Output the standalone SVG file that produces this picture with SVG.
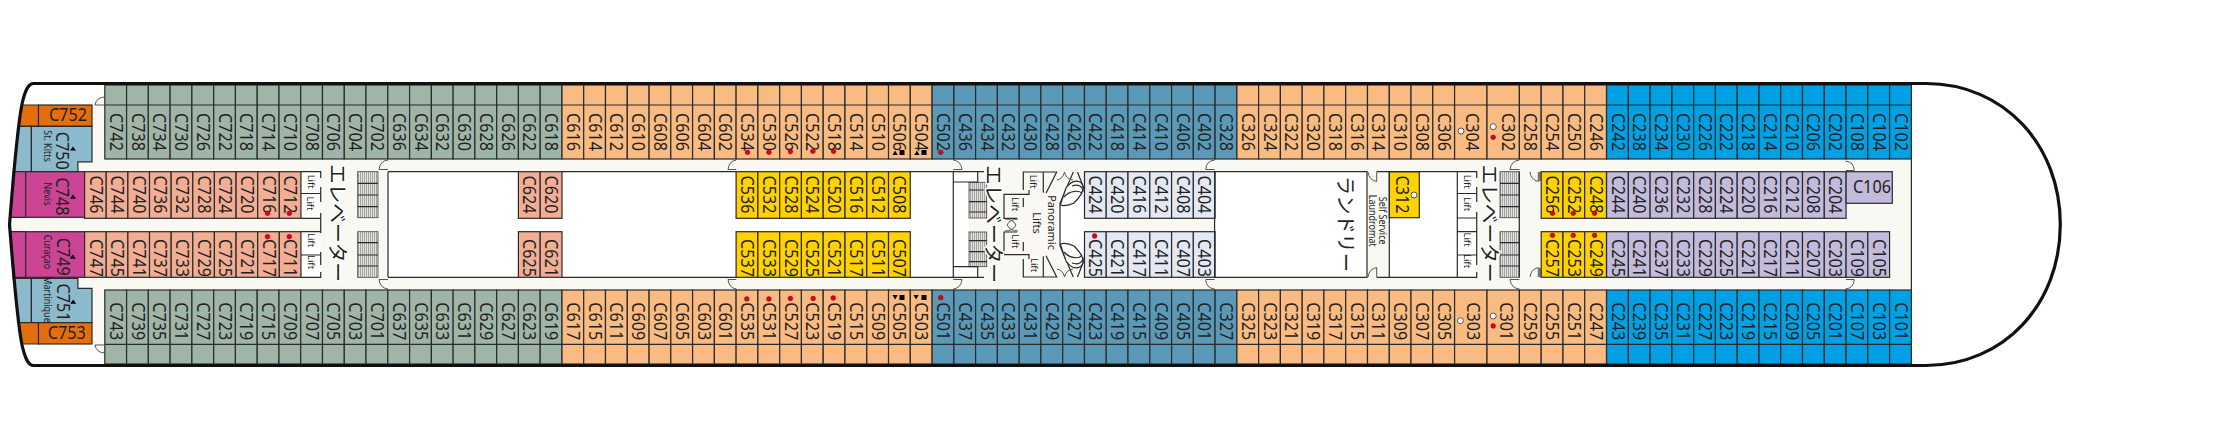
<svg xmlns="http://www.w3.org/2000/svg" width="2232" height="440" viewBox="0 0 2232 440">
<style>
text{font-family:"Noto Sans","Open Sans",sans-serif;fill:#231f20}
.c text{font-size:18px;text-anchor:middle}
.c text.s{font-size:10px}
.c rect,.c path.r{stroke:#2a2a2a;stroke-width:1.2}
.gr rect{fill:#9fb5a8}.or rect{fill:#f9bb82}.te rect{fill:#5a9ab8}.bl rect{fill:#00a0e4}
.sa rect{fill:#f2ad95}.ye rect{fill:#ffd200}.pa rect{fill:#e3e8f4}.li rect{fill:#c3bbdc}
.s{font-size:10px;text-anchor:middle}
.l{font-size:9.5px;text-anchor:middle}
.p{font-size:11.5px;text-anchor:middle}
.j{font-family:"Noto Sans CJK JP","Noto Sans",sans-serif;font-size:20px;text-anchor:middle;stroke:#fff;stroke-width:3px;paint-order:stroke}
.w{fill:none;stroke:#2a2a2a;stroke-width:1.2}
.d{fill:none;stroke:#555;stroke-width:1}
.rd{fill:#e2001a;stroke:#600;stroke-width:.4}
.wd{fill:#fff;stroke:#333;stroke-width:.8}
.st{fill:url(#hatch);stroke:#444;stroke-width:.8}
.k{fill:#000}
</style>
<defs>
<pattern id="hatch" width="2" height="4" patternUnits="userSpaceOnUse"><rect width="2" height="4" fill="#e4e4e0"/><rect width=".6" height="4" fill="#777"/></pattern>
</defs>
<rect width="2232" height="440" fill="#fff"/>
<g id="floor">
<rect x="10" y="218" width="80" height="14" fill="#faf8f3"/>
<rect x="77" y="159" width="1834.4" height="131" fill="#faf8f3"/>
<rect x="92" y="105" width="14" height="240" fill="#faf8f3"/>
<rect x="388" y="171.7" width="565.3" height="105.6" fill="#fff"/>
<rect x="953.3" y="182" width="15.7" height="85" fill="#fff"/>
<rect x="953.3" y="171.7" width="24.4" height="10.3" fill="#fff"/>
<rect x="953.3" y="267" width="24.4" height="10.3" fill="#fff"/>
<rect x="1214.6" y="171.7" width="152.4" height="105.6" fill="#fff"/>
<rect x="1389.3" y="171.7" width="68" height="105.6" fill="#fff"/>
<rect x="300.9" y="171.7" width="19.5" height="46.6" fill="#fff"/>
<rect x="300.9" y="231.7" width="19.5" height="45.6" fill="#fff"/>
<rect x="1457.3" y="171.7" width="19.5" height="105.6" fill="#fff"/>
<path d="M1060 204L1084.5 190V258L1060 246Z" fill="#fff"/>
</g>
<g id="stern-suites">
<g id="C752" class="c"><path class="r" fill="#e46f0a" d="M22.4 105H38.5V126.3H18.5Z"/><rect x="38.5" y="105" width="53.5" height="21.3" fill="#e46f0a"/><text transform="translate(67.9 121)scale(.9 1)">C752</text></g>
<g id="C750" class="c"><path class="r" fill="#8cb9cb" d="M18.5 126.3H31.4V171.5H13.4Z"/><path class="r" fill="#8cb9cb" d="M31.4 126.3H92V161.8H77.9V171.5H31.4Z"/><text transform="translate(55.7 150.7)rotate(90)scale(.9 1)">C750</text><text class="s" transform="translate(44.2 146)rotate(90)scale(.9 1)">St. Kitts</text><path class="k" d="M73 146.4l3 4.2h-6z"/></g>
<g id="C748" class="c"><path class="r" fill="#cc4494" d="M13.2 171.7H25.7V217.3H10.2Z"/><rect x="25.7" y="171.7" width="58.9" height="45.6" fill="#cc4494"/><text transform="translate(56.3 196.5)rotate(90)scale(.9 1)">C748</text><text class="s" transform="translate(44 194)rotate(90)scale(.9 1)">Nevis</text><path class="k" d="M73 194.6l3 4.2h-6z"/></g>
<g id="C749" class="c"><path class="r" fill="#cc4494" d="M10.2 231.7H25.7V277.3H13.2Z"/><rect x="25.7" y="231.7" width="58.9" height="45.6" fill="#cc4494"/><text transform="translate(56.5 256.7)rotate(90)scale(.9 1)">C749</text><text class="s" transform="translate(44 252)rotate(90)scale(.9 1)">Curaçao</text><path class="k" d="M72.8 254.6l3 4.2h-6z"/></g>
<g id="C751" class="c"><path class="r" fill="#8cb9cb" d="M13.4 278.3H31.4V322.7H18.5Z"/><path class="r" fill="#8cb9cb" d="M31.4 278.3H77.9V288.3H92V322.7H31.4Z"/><text transform="translate(56.5 302.5)rotate(90)scale(.9 1)">C751</text><text class="s" transform="translate(44 299.5)rotate(90)scale(.9 1)">Martinique</text><path class="k" d="M73.2 299.6l3 4.2h-6z"/></g>
<g id="C753" class="c"><path class="r" fill="#e46f0a" d="M18.5 322.7H38.5V344H22.4Z"/><rect x="38.5" y="322.7" width="53.5" height="21.3" fill="#e46f0a"/><text transform="translate(66.8 338.7)scale(.9 1)">C753</text></g>
</g>
<g id="top-row" class="c">
<g class="gr">
<g id="C742"><rect x="104.8" y="85" width="21.77" height="74"/><text transform="translate(109.7 132)rotate(90)scale(.9 1)">C742</text></g>
<g id="C738"><rect x="126.6" y="85" width="21.77" height="74"/><text transform="translate(131.5 132)rotate(90)scale(.9 1)">C738</text></g>
<g id="C734"><rect x="148.3" y="85" width="21.77" height="74"/><text transform="translate(153.2 132)rotate(90)scale(.9 1)">C734</text></g>
<g id="C730"><rect x="170.1" y="85" width="21.77" height="74"/><text transform="translate(175 132)rotate(90)scale(.9 1)">C730</text></g>
<g id="C726"><rect x="191.9" y="85" width="21.77" height="74"/><text transform="translate(196.8 132)rotate(90)scale(.9 1)">C726</text></g>
<g id="C722"><rect x="213.7" y="85" width="21.77" height="74"/><text transform="translate(218.6 132)rotate(90)scale(.9 1)">C722</text></g>
<g id="C718"><rect x="235.4" y="85" width="21.77" height="74"/><text transform="translate(240.3 132)rotate(90)scale(.9 1)">C718</text></g>
<g id="C714"><rect x="257.2" y="85" width="21.77" height="74"/><text transform="translate(262.1 132)rotate(90)scale(.9 1)">C714</text></g>
<g id="C710"><rect x="279" y="85" width="21.77" height="74"/><text transform="translate(283.9 132)rotate(90)scale(.9 1)">C710</text></g>
<g id="C708"><rect x="300.7" y="85" width="21.77" height="74"/><text transform="translate(305.6 132)rotate(90)scale(.9 1)">C708</text></g>
<g id="C706"><rect x="322.5" y="85" width="21.77" height="74"/><text transform="translate(327.4 132)rotate(90)scale(.9 1)">C706</text></g>
<g id="C704"><rect x="344.3" y="85" width="21.77" height="74"/><text transform="translate(349.2 132)rotate(90)scale(.9 1)">C704</text></g>
<g id="C702"><rect x="366" y="85" width="21.77" height="74"/><text transform="translate(370.9 132)rotate(90)scale(.9 1)">C702</text></g>
<g id="C636"><rect x="387.8" y="85" width="21.77" height="74"/><text transform="translate(392.7 132)rotate(90)scale(.9 1)">C636</text></g>
<g id="C634"><rect x="409.6" y="85" width="21.77" height="74"/><text transform="translate(414.5 132)rotate(90)scale(.9 1)">C634</text></g>
<g id="C632"><rect x="431.4" y="85" width="21.77" height="74"/><text transform="translate(436.3 132)rotate(90)scale(.9 1)">C632</text></g>
<g id="C630"><rect x="453.1" y="85" width="21.77" height="74"/><text transform="translate(458 132)rotate(90)scale(.9 1)">C630</text></g>
<g id="C628"><rect x="474.9" y="85" width="21.77" height="74"/><text transform="translate(479.8 132)rotate(90)scale(.9 1)">C628</text></g>
<g id="C626"><rect x="496.7" y="85" width="21.77" height="74"/><text transform="translate(501.6 132)rotate(90)scale(.9 1)">C626</text></g>
<g id="C622"><rect x="518.4" y="85" width="21.77" height="74"/><text transform="translate(523.3 132)rotate(90)scale(.9 1)">C622</text></g>
<g id="C618"><rect x="540.2" y="85" width="21.77" height="74"/><text transform="translate(545.1 132)rotate(90)scale(.9 1)">C618</text></g>
</g>
<g class="or">
<g id="C616"><rect x="562" y="85" width="21.77" height="74"/><text transform="translate(566.9 132)rotate(90)scale(.9 1)">C616</text></g>
<g id="C614"><rect x="583.7" y="85" width="21.77" height="74"/><text transform="translate(588.6 132)rotate(90)scale(.9 1)">C614</text></g>
<g id="C612"><rect x="605.5" y="85" width="21.77" height="74"/><text transform="translate(610.4 132)rotate(90)scale(.9 1)">C612</text></g>
<g id="C610"><rect x="627.3" y="85" width="21.77" height="74"/><text transform="translate(632.2 132)rotate(90)scale(.9 1)">C610</text></g>
<g id="C608"><rect x="649.1" y="85" width="21.77" height="74"/><text transform="translate(654 132)rotate(90)scale(.9 1)">C608</text></g>
<g id="C606"><rect x="670.8" y="85" width="21.77" height="74"/><text transform="translate(675.7 132)rotate(90)scale(.9 1)">C606</text></g>
<g id="C604"><rect x="692.6" y="85" width="21.77" height="74"/><text transform="translate(697.5 132)rotate(90)scale(.9 1)">C604</text></g>
<g id="C602"><rect x="714.4" y="85" width="21.77" height="74"/><text transform="translate(719.3 132)rotate(90)scale(.9 1)">C602</text></g>
<g id="C534"><rect x="736.1" y="85" width="21.77" height="74"/><text transform="translate(741 132)rotate(90)scale(.9 1)">C534</text></g>
<g id="C530"><rect x="757.9" y="85" width="21.77" height="74"/><text transform="translate(762.8 132)rotate(90)scale(.9 1)">C530</text></g>
<g id="C526"><rect x="779.7" y="85" width="21.77" height="74"/><text transform="translate(784.6 132)rotate(90)scale(.9 1)">C526</text></g>
<g id="C522"><rect x="801.4" y="85" width="21.77" height="74"/><text transform="translate(806.3 132)rotate(90)scale(.9 1)">C522</text></g>
<g id="C518"><rect x="823.2" y="85" width="21.77" height="74"/><text transform="translate(828.1 132)rotate(90)scale(.9 1)">C518</text></g>
<g id="C514"><rect x="845" y="85" width="21.77" height="74"/><text transform="translate(849.9 132)rotate(90)scale(.9 1)">C514</text></g>
<g id="C510"><rect x="866.8" y="85" width="21.77" height="74"/><text transform="translate(871.7 132)rotate(90)scale(.9 1)">C510</text></g>
<g id="C506"><rect x="888.5" y="85" width="21.77" height="74"/><text transform="translate(893.4 132)rotate(90)scale(.9 1)">C506</text></g>
<g id="C504"><rect x="910.3" y="85" width="21.77" height="74"/><text transform="translate(915.2 132)rotate(90)scale(.9 1)">C504</text></g>
</g>
<g class="te">
<g id="C502"><rect x="932.1" y="85" width="21.77" height="74"/><text transform="translate(937 132)rotate(90)scale(.9 1)">C502</text></g>
<g id="C436"><rect x="953.9" y="85" width="21.77" height="74"/><text transform="translate(958.8 132)rotate(90)scale(.9 1)">C436</text></g>
<g id="C434"><rect x="975.6" y="85" width="21.77" height="74"/><text transform="translate(980.5 132)rotate(90)scale(.9 1)">C434</text></g>
<g id="C432"><rect x="997.4" y="85" width="21.77" height="74"/><text transform="translate(1002.3 132)rotate(90)scale(.9 1)">C432</text></g>
<g id="C430"><rect x="1019.2" y="85" width="21.77" height="74"/><text transform="translate(1024.1 132)rotate(90)scale(.9 1)">C430</text></g>
<g id="C428"><rect x="1040.9" y="85" width="21.77" height="74"/><text transform="translate(1045.8 132)rotate(90)scale(.9 1)">C428</text></g>
<g id="C426"><rect x="1062.7" y="85" width="21.77" height="74"/><text transform="translate(1067.6 132)rotate(90)scale(.9 1)">C426</text></g>
<g id="C422"><rect x="1084.5" y="85" width="21.77" height="74"/><text transform="translate(1089.4 132)rotate(90)scale(.9 1)">C422</text></g>
<g id="C418"><rect x="1106.2" y="85" width="21.77" height="74"/><text transform="translate(1111.1 132)rotate(90)scale(.9 1)">C418</text></g>
<g id="C414"><rect x="1128" y="85" width="21.77" height="74"/><text transform="translate(1132.9 132)rotate(90)scale(.9 1)">C414</text></g>
<g id="C410"><rect x="1149.8" y="85" width="21.77" height="74"/><text transform="translate(1154.7 132)rotate(90)scale(.9 1)">C410</text></g>
<g id="C406"><rect x="1171.6" y="85" width="21.77" height="74"/><text transform="translate(1176.5 132)rotate(90)scale(.9 1)">C406</text></g>
<g id="C402"><rect x="1193.3" y="85" width="21.77" height="74"/><text transform="translate(1198.2 132)rotate(90)scale(.9 1)">C402</text></g>
<g id="C328"><rect x="1215.1" y="85" width="21.77" height="74"/><text transform="translate(1220 132)rotate(90)scale(.9 1)">C328</text></g>
</g>
<g class="or">
<g id="C326"><rect x="1236.9" y="85" width="21.77" height="74"/><text transform="translate(1241.8 132)rotate(90)scale(.9 1)">C326</text></g>
<g id="C324"><rect x="1258.6" y="85" width="21.77" height="74"/><text transform="translate(1263.5 132)rotate(90)scale(.9 1)">C324</text></g>
<g id="C322"><rect x="1280.4" y="85" width="21.77" height="74"/><text transform="translate(1285.3 132)rotate(90)scale(.9 1)">C322</text></g>
<g id="C320"><rect x="1302.2" y="85" width="21.77" height="74"/><text transform="translate(1307.1 132)rotate(90)scale(.9 1)">C320</text></g>
<g id="C318"><rect x="1323.9" y="85" width="21.77" height="74"/><text transform="translate(1328.8 132)rotate(90)scale(.9 1)">C318</text></g>
<g id="C316"><rect x="1345.7" y="85" width="21.77" height="74"/><text transform="translate(1350.6 132)rotate(90)scale(.9 1)">C316</text></g>
<g id="C314"><rect x="1367.5" y="85" width="21.77" height="74"/><text transform="translate(1372.4 132)rotate(90)scale(.9 1)">C314</text></g>
<g id="C310"><rect x="1389.3" y="85" width="21.77" height="74"/><text transform="translate(1394.2 132)rotate(90)scale(.9 1)">C310</text></g>
<g id="C308"><rect x="1411" y="85" width="21.77" height="74"/><text transform="translate(1415.9 132)rotate(90)scale(.9 1)">C308</text></g>
<g id="C306"><rect x="1432.8" y="85" width="21.77" height="74"/><text transform="translate(1437.7 132)rotate(90)scale(.9 1)">C306</text></g>
<g id="C304"><rect x="1454.6" y="85" width="32.4" height="74"/><text transform="translate(1465.8 132)rotate(90)scale(.9 1)">C304</text></g>
<g id="C302"><rect x="1487" y="85" width="32.4" height="74"/><text transform="translate(1501.5 132)rotate(90)scale(.9 1)">C302</text></g>
<g id="C258"><rect x="1519.4" y="85" width="21.77" height="74"/><text transform="translate(1524.3 132)rotate(90)scale(.9 1)">C258</text></g>
<g id="C254"><rect x="1541.2" y="85" width="21.77" height="74"/><text transform="translate(1546.1 132)rotate(90)scale(.9 1)">C254</text></g>
<g id="C250"><rect x="1563" y="85" width="21.77" height="74"/><text transform="translate(1567.9 132)rotate(90)scale(.9 1)">C250</text></g>
<g id="C246"><rect x="1584.7" y="85" width="21.77" height="74"/><text transform="translate(1589.6 132)rotate(90)scale(.9 1)">C246</text></g>
</g>
<g class="bl">
<g id="C242"><rect x="1606.6" y="85" width="21.77" height="74"/><text transform="translate(1611.5 132)rotate(90)scale(.9 1)">C242</text></g>
<g id="C238"><rect x="1628.4" y="85" width="21.77" height="74"/><text transform="translate(1633.3 132)rotate(90)scale(.9 1)">C238</text></g>
<g id="C234"><rect x="1650.1" y="85" width="21.77" height="74"/><text transform="translate(1655 132)rotate(90)scale(.9 1)">C234</text></g>
<g id="C230"><rect x="1671.9" y="85" width="21.77" height="74"/><text transform="translate(1676.8 132)rotate(90)scale(.9 1)">C230</text></g>
<g id="C226"><rect x="1693.7" y="85" width="21.77" height="74"/><text transform="translate(1698.6 132)rotate(90)scale(.9 1)">C226</text></g>
<g id="C222"><rect x="1715.4" y="85" width="21.77" height="74"/><text transform="translate(1720.3 132)rotate(90)scale(.9 1)">C222</text></g>
<g id="C218"><rect x="1737.2" y="85" width="21.77" height="74"/><text transform="translate(1742.1 132)rotate(90)scale(.9 1)">C218</text></g>
<g id="C214"><rect x="1759" y="85" width="21.77" height="74"/><text transform="translate(1763.9 132)rotate(90)scale(.9 1)">C214</text></g>
<g id="C210"><rect x="1780.7" y="85" width="21.77" height="74"/><text transform="translate(1785.6 132)rotate(90)scale(.9 1)">C210</text></g>
<g id="C206"><rect x="1802.5" y="85" width="21.77" height="74"/><text transform="translate(1807.4 132)rotate(90)scale(.9 1)">C206</text></g>
<g id="C202"><rect x="1824.3" y="85" width="21.77" height="74"/><text transform="translate(1829.2 132)rotate(90)scale(.9 1)">C202</text></g>
<g id="C108"><rect x="1846.1" y="85" width="21.77" height="74"/><text transform="translate(1851 132)rotate(90)scale(.9 1)">C108</text></g>
<g id="C104"><rect x="1867.8" y="85" width="21.77" height="74"/><text transform="translate(1872.7 132)rotate(90)scale(.9 1)">C104</text></g>
<g id="C102"><rect x="1889.6" y="85" width="21.77" height="74"/><text transform="translate(1894.5 132)rotate(90)scale(.9 1)">C102</text></g>
</g>
</g>
<g id="bottom-row" class="c">
<g class="gr">
<g id="C743"><rect x="104.8" y="290" width="21.77" height="74"/><text transform="translate(109.7 321.3)rotate(90)scale(.9 1)">C743</text></g>
<g id="C739"><rect x="126.6" y="290" width="21.77" height="74"/><text transform="translate(131.5 321.3)rotate(90)scale(.9 1)">C739</text></g>
<g id="C735"><rect x="148.3" y="290" width="21.77" height="74"/><text transform="translate(153.2 321.3)rotate(90)scale(.9 1)">C735</text></g>
<g id="C731"><rect x="170.1" y="290" width="21.77" height="74"/><text transform="translate(175 321.3)rotate(90)scale(.9 1)">C731</text></g>
<g id="C727"><rect x="191.9" y="290" width="21.77" height="74"/><text transform="translate(196.8 321.3)rotate(90)scale(.9 1)">C727</text></g>
<g id="C723"><rect x="213.7" y="290" width="21.77" height="74"/><text transform="translate(218.6 321.3)rotate(90)scale(.9 1)">C723</text></g>
<g id="C719"><rect x="235.4" y="290" width="21.77" height="74"/><text transform="translate(240.3 321.3)rotate(90)scale(.9 1)">C719</text></g>
<g id="C715"><rect x="257.2" y="290" width="21.77" height="74"/><text transform="translate(262.1 321.3)rotate(90)scale(.9 1)">C715</text></g>
<g id="C709"><rect x="279" y="290" width="21.77" height="74"/><text transform="translate(283.9 321.3)rotate(90)scale(.9 1)">C709</text></g>
<g id="C707"><rect x="300.7" y="290" width="21.77" height="74"/><text transform="translate(305.6 321.3)rotate(90)scale(.9 1)">C707</text></g>
<g id="C705"><rect x="322.5" y="290" width="21.77" height="74"/><text transform="translate(327.4 321.3)rotate(90)scale(.9 1)">C705</text></g>
<g id="C703"><rect x="344.3" y="290" width="21.77" height="74"/><text transform="translate(349.2 321.3)rotate(90)scale(.9 1)">C703</text></g>
<g id="C701"><rect x="366" y="290" width="21.77" height="74"/><text transform="translate(370.9 321.3)rotate(90)scale(.9 1)">C701</text></g>
<g id="C637"><rect x="387.8" y="290" width="21.77" height="74"/><text transform="translate(392.7 321.3)rotate(90)scale(.9 1)">C637</text></g>
<g id="C635"><rect x="409.6" y="290" width="21.77" height="74"/><text transform="translate(414.5 321.3)rotate(90)scale(.9 1)">C635</text></g>
<g id="C633"><rect x="431.4" y="290" width="21.77" height="74"/><text transform="translate(436.3 321.3)rotate(90)scale(.9 1)">C633</text></g>
<g id="C631"><rect x="453.1" y="290" width="21.77" height="74"/><text transform="translate(458 321.3)rotate(90)scale(.9 1)">C631</text></g>
<g id="C629"><rect x="474.9" y="290" width="21.77" height="74"/><text transform="translate(479.8 321.3)rotate(90)scale(.9 1)">C629</text></g>
<g id="C627"><rect x="496.7" y="290" width="21.77" height="74"/><text transform="translate(501.6 321.3)rotate(90)scale(.9 1)">C627</text></g>
<g id="C623"><rect x="518.4" y="290" width="21.77" height="74"/><text transform="translate(523.3 321.3)rotate(90)scale(.9 1)">C623</text></g>
<g id="C619"><rect x="540.2" y="290" width="21.77" height="74"/><text transform="translate(545.1 321.3)rotate(90)scale(.9 1)">C619</text></g>
</g>
<g class="or">
<g id="C617"><rect x="562" y="290" width="21.77" height="74"/><text transform="translate(566.9 321.3)rotate(90)scale(.9 1)">C617</text></g>
<g id="C615"><rect x="583.7" y="290" width="21.77" height="74"/><text transform="translate(588.6 321.3)rotate(90)scale(.9 1)">C615</text></g>
<g id="C611"><rect x="605.5" y="290" width="21.77" height="74"/><text transform="translate(610.4 321.3)rotate(90)scale(.9 1)">C611</text></g>
<g id="C609"><rect x="627.3" y="290" width="21.77" height="74"/><text transform="translate(632.2 321.3)rotate(90)scale(.9 1)">C609</text></g>
<g id="C607"><rect x="649.1" y="290" width="21.77" height="74"/><text transform="translate(654 321.3)rotate(90)scale(.9 1)">C607</text></g>
<g id="C605"><rect x="670.8" y="290" width="21.77" height="74"/><text transform="translate(675.7 321.3)rotate(90)scale(.9 1)">C605</text></g>
<g id="C603"><rect x="692.6" y="290" width="21.77" height="74"/><text transform="translate(697.5 321.3)rotate(90)scale(.9 1)">C603</text></g>
<g id="C601"><rect x="714.4" y="290" width="21.77" height="74"/><text transform="translate(719.3 321.3)rotate(90)scale(.9 1)">C601</text></g>
<g id="C535"><rect x="736.1" y="290" width="21.77" height="74"/><text transform="translate(741 321.3)rotate(90)scale(.9 1)">C535</text></g>
<g id="C531"><rect x="757.9" y="290" width="21.77" height="74"/><text transform="translate(762.8 321.3)rotate(90)scale(.9 1)">C531</text></g>
<g id="C527"><rect x="779.7" y="290" width="21.77" height="74"/><text transform="translate(784.6 321.3)rotate(90)scale(.9 1)">C527</text></g>
<g id="C523"><rect x="801.4" y="290" width="21.77" height="74"/><text transform="translate(806.3 321.3)rotate(90)scale(.9 1)">C523</text></g>
<g id="C519"><rect x="823.2" y="290" width="21.77" height="74"/><text transform="translate(828.1 321.3)rotate(90)scale(.9 1)">C519</text></g>
<g id="C515"><rect x="845" y="290" width="21.77" height="74"/><text transform="translate(849.9 321.3)rotate(90)scale(.9 1)">C515</text></g>
<g id="C509"><rect x="866.8" y="290" width="21.77" height="74"/><text transform="translate(871.7 321.3)rotate(90)scale(.9 1)">C509</text></g>
<g id="C505"><rect x="888.5" y="290" width="21.77" height="74"/><text transform="translate(893.4 321.3)rotate(90)scale(.9 1)">C505</text></g>
<g id="C503"><rect x="910.3" y="290" width="21.77" height="74"/><text transform="translate(915.2 321.3)rotate(90)scale(.9 1)">C503</text></g>
</g>
<g class="te">
<g id="C501"><rect x="932.1" y="290" width="21.77" height="74"/><text transform="translate(937 321.3)rotate(90)scale(.9 1)">C501</text></g>
<g id="C437"><rect x="953.9" y="290" width="21.77" height="74"/><text transform="translate(958.8 321.3)rotate(90)scale(.9 1)">C437</text></g>
<g id="C435"><rect x="975.6" y="290" width="21.77" height="74"/><text transform="translate(980.5 321.3)rotate(90)scale(.9 1)">C435</text></g>
<g id="C433"><rect x="997.4" y="290" width="21.77" height="74"/><text transform="translate(1002.3 321.3)rotate(90)scale(.9 1)">C433</text></g>
<g id="C431"><rect x="1019.2" y="290" width="21.77" height="74"/><text transform="translate(1024.1 321.3)rotate(90)scale(.9 1)">C431</text></g>
<g id="C429"><rect x="1040.9" y="290" width="21.77" height="74"/><text transform="translate(1045.8 321.3)rotate(90)scale(.9 1)">C429</text></g>
<g id="C427"><rect x="1062.7" y="290" width="21.77" height="74"/><text transform="translate(1067.6 321.3)rotate(90)scale(.9 1)">C427</text></g>
<g id="C423"><rect x="1084.5" y="290" width="21.77" height="74"/><text transform="translate(1089.4 321.3)rotate(90)scale(.9 1)">C423</text></g>
<g id="C419"><rect x="1106.2" y="290" width="21.77" height="74"/><text transform="translate(1111.1 321.3)rotate(90)scale(.9 1)">C419</text></g>
<g id="C415"><rect x="1128" y="290" width="21.77" height="74"/><text transform="translate(1132.9 321.3)rotate(90)scale(.9 1)">C415</text></g>
<g id="C409"><rect x="1149.8" y="290" width="21.77" height="74"/><text transform="translate(1154.7 321.3)rotate(90)scale(.9 1)">C409</text></g>
<g id="C405"><rect x="1171.6" y="290" width="21.77" height="74"/><text transform="translate(1176.5 321.3)rotate(90)scale(.9 1)">C405</text></g>
<g id="C401"><rect x="1193.3" y="290" width="21.77" height="74"/><text transform="translate(1198.2 321.3)rotate(90)scale(.9 1)">C401</text></g>
<g id="C327"><rect x="1215.1" y="290" width="21.77" height="74"/><text transform="translate(1220 321.3)rotate(90)scale(.9 1)">C327</text></g>
</g>
<g class="or">
<g id="C325"><rect x="1236.9" y="290" width="21.77" height="74"/><text transform="translate(1241.8 321.3)rotate(90)scale(.9 1)">C325</text></g>
<g id="C323"><rect x="1258.6" y="290" width="21.77" height="74"/><text transform="translate(1263.5 321.3)rotate(90)scale(.9 1)">C323</text></g>
<g id="C321"><rect x="1280.4" y="290" width="21.77" height="74"/><text transform="translate(1285.3 321.3)rotate(90)scale(.9 1)">C321</text></g>
<g id="C319"><rect x="1302.2" y="290" width="21.77" height="74"/><text transform="translate(1307.1 321.3)rotate(90)scale(.9 1)">C319</text></g>
<g id="C317"><rect x="1323.9" y="290" width="21.77" height="74"/><text transform="translate(1328.8 321.3)rotate(90)scale(.9 1)">C317</text></g>
<g id="C315"><rect x="1345.7" y="290" width="21.77" height="74"/><text transform="translate(1350.6 321.3)rotate(90)scale(.9 1)">C315</text></g>
<g id="C311"><rect x="1367.5" y="290" width="21.77" height="74"/><text transform="translate(1372.4 321.3)rotate(90)scale(.9 1)">C311</text></g>
<g id="C309"><rect x="1389.3" y="290" width="21.77" height="74"/><text transform="translate(1394.2 321.3)rotate(90)scale(.9 1)">C309</text></g>
<g id="C307"><rect x="1411" y="290" width="21.77" height="74"/><text transform="translate(1415.9 321.3)rotate(90)scale(.9 1)">C307</text></g>
<g id="C305"><rect x="1432.8" y="290" width="21.77" height="74"/><text transform="translate(1437.7 321.3)rotate(90)scale(.9 1)">C305</text></g>
<g id="C303"><rect x="1454.6" y="290" width="32.4" height="74"/><text transform="translate(1466.9 321.3)rotate(90)scale(.9 1)">C303</text></g>
<g id="C301"><rect x="1487" y="290" width="32.4" height="74"/><text transform="translate(1500.4 321.3)rotate(90)scale(.9 1)">C301</text></g>
<g id="C259"><rect x="1519.4" y="290" width="21.77" height="74"/><text transform="translate(1524.3 321.3)rotate(90)scale(.9 1)">C259</text></g>
<g id="C255"><rect x="1541.2" y="290" width="21.77" height="74"/><text transform="translate(1546.1 321.3)rotate(90)scale(.9 1)">C255</text></g>
<g id="C251"><rect x="1563" y="290" width="21.77" height="74"/><text transform="translate(1567.9 321.3)rotate(90)scale(.9 1)">C251</text></g>
<g id="C247"><rect x="1584.7" y="290" width="21.77" height="74"/><text transform="translate(1589.6 321.3)rotate(90)scale(.9 1)">C247</text></g>
</g>
<g class="bl">
<g id="C243"><rect x="1606.6" y="290" width="21.77" height="74"/><text transform="translate(1611.5 321.3)rotate(90)scale(.9 1)">C243</text></g>
<g id="C239"><rect x="1628.4" y="290" width="21.77" height="74"/><text transform="translate(1633.3 321.3)rotate(90)scale(.9 1)">C239</text></g>
<g id="C235"><rect x="1650.1" y="290" width="21.77" height="74"/><text transform="translate(1655 321.3)rotate(90)scale(.9 1)">C235</text></g>
<g id="C231"><rect x="1671.9" y="290" width="21.77" height="74"/><text transform="translate(1676.8 321.3)rotate(90)scale(.9 1)">C231</text></g>
<g id="C227"><rect x="1693.7" y="290" width="21.77" height="74"/><text transform="translate(1698.6 321.3)rotate(90)scale(.9 1)">C227</text></g>
<g id="C223"><rect x="1715.4" y="290" width="21.77" height="74"/><text transform="translate(1720.3 321.3)rotate(90)scale(.9 1)">C223</text></g>
<g id="C219"><rect x="1737.2" y="290" width="21.77" height="74"/><text transform="translate(1742.1 321.3)rotate(90)scale(.9 1)">C219</text></g>
<g id="C215"><rect x="1759" y="290" width="21.77" height="74"/><text transform="translate(1763.9 321.3)rotate(90)scale(.9 1)">C215</text></g>
<g id="C209"><rect x="1780.7" y="290" width="21.77" height="74"/><text transform="translate(1785.6 321.3)rotate(90)scale(.9 1)">C209</text></g>
<g id="C205"><rect x="1802.5" y="290" width="21.77" height="74"/><text transform="translate(1807.4 321.3)rotate(90)scale(.9 1)">C205</text></g>
<g id="C201"><rect x="1824.3" y="290" width="21.77" height="74"/><text transform="translate(1829.2 321.3)rotate(90)scale(.9 1)">C201</text></g>
<g id="C107"><rect x="1846.1" y="290" width="21.77" height="74"/><text transform="translate(1851 321.3)rotate(90)scale(.9 1)">C107</text></g>
<g id="C103"><rect x="1867.8" y="290" width="21.77" height="74"/><text transform="translate(1872.7 321.3)rotate(90)scale(.9 1)">C103</text></g>
<g id="C101"><rect x="1889.6" y="290" width="21.77" height="74"/><text transform="translate(1894.5 321.3)rotate(90)scale(.9 1)">C101</text></g>
</g>
</g>
<g id="inner-rows" class="c">
<g class="sa">
<g id="C746"><rect x="84.6" y="171.7" width="21.64" height="46.6"/><text transform="translate(89.5 194.5)rotate(90)scale(.9 1)">C746</text></g>
<g id="C744"><rect x="106.2" y="171.7" width="21.64" height="46.6"/><text transform="translate(111.1 194.5)rotate(90)scale(.9 1)">C744</text></g>
<g id="C740"><rect x="127.9" y="171.7" width="21.64" height="46.6"/><text transform="translate(132.8 194.5)rotate(90)scale(.9 1)">C740</text></g>
<g id="C736"><rect x="149.5" y="171.7" width="21.64" height="46.6"/><text transform="translate(154.4 194.5)rotate(90)scale(.9 1)">C736</text></g>
<g id="C732"><rect x="171.2" y="171.7" width="21.64" height="46.6"/><text transform="translate(176.1 194.5)rotate(90)scale(.9 1)">C732</text></g>
<g id="C728"><rect x="192.8" y="171.7" width="21.64" height="46.6"/><text transform="translate(197.7 194.5)rotate(90)scale(.9 1)">C728</text></g>
<g id="C724"><rect x="214.4" y="171.7" width="21.64" height="46.6"/><text transform="translate(219.3 194.5)rotate(90)scale(.9 1)">C724</text></g>
<g id="C720"><rect x="236.1" y="171.7" width="21.64" height="46.6"/><text transform="translate(241 194.5)rotate(90)scale(.9 1)">C720</text></g>
<g id="C716"><rect x="257.7" y="171.7" width="21.64" height="46.6"/><text transform="translate(262.6 194.5)rotate(90)scale(.9 1)">C716</text></g>
<g id="C712"><rect x="279.3" y="171.7" width="21.64" height="46.6"/><text transform="translate(284.2 194.5)rotate(90)scale(.9 1)">C712</text></g>
<g id="C747"><rect x="84.6" y="231.7" width="21.64" height="45.6"/><text transform="translate(89.5 258)rotate(90)scale(.9 1)">C747</text></g>
<g id="C745"><rect x="106.2" y="231.7" width="21.64" height="45.6"/><text transform="translate(111.1 258)rotate(90)scale(.9 1)">C745</text></g>
<g id="C741"><rect x="127.9" y="231.7" width="21.64" height="45.6"/><text transform="translate(132.8 258)rotate(90)scale(.9 1)">C741</text></g>
<g id="C737"><rect x="149.5" y="231.7" width="21.64" height="45.6"/><text transform="translate(154.4 258)rotate(90)scale(.9 1)">C737</text></g>
<g id="C733"><rect x="171.2" y="231.7" width="21.64" height="45.6"/><text transform="translate(176.1 258)rotate(90)scale(.9 1)">C733</text></g>
<g id="C729"><rect x="192.8" y="231.7" width="21.64" height="45.6"/><text transform="translate(197.7 258)rotate(90)scale(.9 1)">C729</text></g>
<g id="C725"><rect x="214.4" y="231.7" width="21.64" height="45.6"/><text transform="translate(219.3 258)rotate(90)scale(.9 1)">C725</text></g>
<g id="C721"><rect x="236.1" y="231.7" width="21.64" height="45.6"/><text transform="translate(241 258)rotate(90)scale(.9 1)">C721</text></g>
<g id="C717"><rect x="257.7" y="231.7" width="21.64" height="45.6"/><text transform="translate(262.6 258)rotate(90)scale(.9 1)">C717</text></g>
<g id="C711"><rect x="279.3" y="231.7" width="21.64" height="45.6"/><text transform="translate(284.2 258)rotate(90)scale(.9 1)">C711</text></g>
<g id="C624"><rect x="518.4" y="171.7" width="21.77" height="46.6"/><text transform="translate(523.3 194.5)rotate(90)scale(.9 1)">C624</text></g>
<g id="C620"><rect x="540.2" y="171.7" width="21.77" height="46.6"/><text transform="translate(545.1 194.5)rotate(90)scale(.9 1)">C620</text></g>
<g id="C625"><rect x="518.4" y="231.7" width="21.77" height="45.6"/><text transform="translate(523.3 258)rotate(90)scale(.9 1)">C625</text></g>
<g id="C621"><rect x="540.2" y="231.7" width="21.77" height="45.6"/><text transform="translate(545.1 258)rotate(90)scale(.9 1)">C621</text></g>
</g>
<g class="ye">
<g id="C536"><rect x="736.1" y="171.7" width="21.77" height="46.6"/><text transform="translate(741 194.5)rotate(90)scale(.9 1)">C536</text></g>
<g id="C532"><rect x="757.9" y="171.7" width="21.77" height="46.6"/><text transform="translate(762.8 194.5)rotate(90)scale(.9 1)">C532</text></g>
<g id="C528"><rect x="779.7" y="171.7" width="21.77" height="46.6"/><text transform="translate(784.6 194.5)rotate(90)scale(.9 1)">C528</text></g>
<g id="C524"><rect x="801.4" y="171.7" width="21.77" height="46.6"/><text transform="translate(806.3 194.5)rotate(90)scale(.9 1)">C524</text></g>
<g id="C520"><rect x="823.2" y="171.7" width="21.77" height="46.6"/><text transform="translate(828.1 194.5)rotate(90)scale(.9 1)">C520</text></g>
<g id="C516"><rect x="845" y="171.7" width="21.77" height="46.6"/><text transform="translate(849.9 194.5)rotate(90)scale(.9 1)">C516</text></g>
<g id="C512"><rect x="866.8" y="171.7" width="21.77" height="46.6"/><text transform="translate(871.7 194.5)rotate(90)scale(.9 1)">C512</text></g>
<g id="C508"><rect x="888.5" y="171.7" width="21.77" height="46.6"/><text transform="translate(893.4 194.5)rotate(90)scale(.9 1)">C508</text></g>
<g id="C537"><rect x="736.1" y="231.7" width="21.77" height="45.6"/><text transform="translate(741 258)rotate(90)scale(.9 1)">C537</text></g>
<g id="C533"><rect x="757.9" y="231.7" width="21.77" height="45.6"/><text transform="translate(762.8 258)rotate(90)scale(.9 1)">C533</text></g>
<g id="C529"><rect x="779.7" y="231.7" width="21.77" height="45.6"/><text transform="translate(784.6 258)rotate(90)scale(.9 1)">C529</text></g>
<g id="C525"><rect x="801.4" y="231.7" width="21.77" height="45.6"/><text transform="translate(806.3 258)rotate(90)scale(.9 1)">C525</text></g>
<g id="C521"><rect x="823.2" y="231.7" width="21.77" height="45.6"/><text transform="translate(828.1 258)rotate(90)scale(.9 1)">C521</text></g>
<g id="C517"><rect x="845" y="231.7" width="21.77" height="45.6"/><text transform="translate(849.9 258)rotate(90)scale(.9 1)">C517</text></g>
<g id="C511"><rect x="866.8" y="231.7" width="21.77" height="45.6"/><text transform="translate(871.7 258)rotate(90)scale(.9 1)">C511</text></g>
<g id="C507"><rect x="888.5" y="231.7" width="21.77" height="45.6"/><text transform="translate(893.4 258)rotate(90)scale(.9 1)">C507</text></g>
<g id="C312"><rect x="1389.3" y="171.7" width="30" height="46"/><text transform="translate(1395.7 194.5)rotate(90)scale(.9 1)">C312</text></g>
<g id="C256"><rect x="1541.2" y="171.7" width="21.77" height="46.6"/><text transform="translate(1546.1 194.5)rotate(90)scale(.9 1)">C256</text></g>
<g id="C252"><rect x="1563" y="171.7" width="21.77" height="46.6"/><text transform="translate(1567.9 194.5)rotate(90)scale(.9 1)">C252</text></g>
<g id="C248"><rect x="1584.7" y="171.7" width="21.77" height="46.6"/><text transform="translate(1589.6 194.5)rotate(90)scale(.9 1)">C248</text></g>
<g id="C257"><rect x="1541.2" y="231.7" width="21.77" height="45.6"/><text transform="translate(1546.1 258)rotate(90)scale(.9 1)">C257</text></g>
<g id="C253"><rect x="1563" y="231.7" width="21.77" height="45.6"/><text transform="translate(1567.9 258)rotate(90)scale(.9 1)">C253</text></g>
<g id="C249"><rect x="1584.7" y="231.7" width="21.77" height="45.6"/><text transform="translate(1589.6 258)rotate(90)scale(.9 1)">C249</text></g>
</g>
<g class="pa">
<g id="C424"><rect x="1084.5" y="171.7" width="21.77" height="46.6"/><text transform="translate(1089.4 194.5)rotate(90)scale(.9 1)">C424</text></g>
<g id="C420"><rect x="1106.2" y="171.7" width="21.77" height="46.6"/><text transform="translate(1111.1 194.5)rotate(90)scale(.9 1)">C420</text></g>
<g id="C416"><rect x="1128" y="171.7" width="21.77" height="46.6"/><text transform="translate(1132.9 194.5)rotate(90)scale(.9 1)">C416</text></g>
<g id="C412"><rect x="1149.8" y="171.7" width="21.77" height="46.6"/><text transform="translate(1154.7 194.5)rotate(90)scale(.9 1)">C412</text></g>
<g id="C408"><rect x="1171.6" y="171.7" width="21.77" height="46.6"/><text transform="translate(1176.5 194.5)rotate(90)scale(.9 1)">C408</text></g>
<g id="C404"><rect x="1193.3" y="171.7" width="21.77" height="46.6"/><text transform="translate(1198.2 194.5)rotate(90)scale(.9 1)">C404</text></g>
<g id="C425"><rect x="1084.5" y="231.7" width="21.77" height="45.6"/><text transform="translate(1089.4 258)rotate(90)scale(.9 1)">C425</text></g>
<g id="C421"><rect x="1106.2" y="231.7" width="21.77" height="45.6"/><text transform="translate(1111.1 258)rotate(90)scale(.9 1)">C421</text></g>
<g id="C417"><rect x="1128" y="231.7" width="21.77" height="45.6"/><text transform="translate(1132.9 258)rotate(90)scale(.9 1)">C417</text></g>
<g id="C411"><rect x="1149.8" y="231.7" width="21.77" height="45.6"/><text transform="translate(1154.7 258)rotate(90)scale(.9 1)">C411</text></g>
<g id="C407"><rect x="1171.6" y="231.7" width="21.77" height="45.6"/><text transform="translate(1176.5 258)rotate(90)scale(.9 1)">C407</text></g>
<g id="C403"><rect x="1193.3" y="231.7" width="21.77" height="45.6"/><text transform="translate(1198.2 258)rotate(90)scale(.9 1)">C403</text></g>
</g>
<g class="li">
<g id="C244"><rect x="1606.6" y="171.7" width="21.77" height="46.6"/><text transform="translate(1611.5 194.5)rotate(90)scale(.9 1)">C244</text></g>
<g id="C240"><rect x="1628.4" y="171.7" width="21.77" height="46.6"/><text transform="translate(1633.3 194.5)rotate(90)scale(.9 1)">C240</text></g>
<g id="C236"><rect x="1650.1" y="171.7" width="21.77" height="46.6"/><text transform="translate(1655 194.5)rotate(90)scale(.9 1)">C236</text></g>
<g id="C232"><rect x="1671.9" y="171.7" width="21.77" height="46.6"/><text transform="translate(1676.8 194.5)rotate(90)scale(.9 1)">C232</text></g>
<g id="C228"><rect x="1693.7" y="171.7" width="21.77" height="46.6"/><text transform="translate(1698.6 194.5)rotate(90)scale(.9 1)">C228</text></g>
<g id="C224"><rect x="1715.4" y="171.7" width="21.77" height="46.6"/><text transform="translate(1720.3 194.5)rotate(90)scale(.9 1)">C224</text></g>
<g id="C220"><rect x="1737.2" y="171.7" width="21.77" height="46.6"/><text transform="translate(1742.1 194.5)rotate(90)scale(.9 1)">C220</text></g>
<g id="C216"><rect x="1759" y="171.7" width="21.77" height="46.6"/><text transform="translate(1763.9 194.5)rotate(90)scale(.9 1)">C216</text></g>
<g id="C212"><rect x="1780.7" y="171.7" width="21.77" height="46.6"/><text transform="translate(1785.6 194.5)rotate(90)scale(.9 1)">C212</text></g>
<g id="C208"><rect x="1802.5" y="171.7" width="21.77" height="46.6"/><text transform="translate(1807.4 194.5)rotate(90)scale(.9 1)">C208</text></g>
<g id="C204"><rect x="1824.3" y="171.7" width="21.77" height="46.6"/><text transform="translate(1829.2 194.5)rotate(90)scale(.9 1)">C204</text></g>
<g id="C106"><rect x="1846.1" y="171.7" width="46.2" height="31.6"/><text transform="translate(1871.9 192.7)scale(.9 1)">C106</text></g>
<g id="C245"><rect x="1606.6" y="231.7" width="21.77" height="45.6"/><text transform="translate(1611.5 258)rotate(90)scale(.9 1)">C245</text></g>
<g id="C241"><rect x="1628.4" y="231.7" width="21.77" height="45.6"/><text transform="translate(1633.3 258)rotate(90)scale(.9 1)">C241</text></g>
<g id="C237"><rect x="1650.1" y="231.7" width="21.77" height="45.6"/><text transform="translate(1655 258)rotate(90)scale(.9 1)">C237</text></g>
<g id="C233"><rect x="1671.9" y="231.7" width="21.77" height="45.6"/><text transform="translate(1676.8 258)rotate(90)scale(.9 1)">C233</text></g>
<g id="C229"><rect x="1693.7" y="231.7" width="21.77" height="45.6"/><text transform="translate(1698.6 258)rotate(90)scale(.9 1)">C229</text></g>
<g id="C225"><rect x="1715.4" y="231.7" width="21.77" height="45.6"/><text transform="translate(1720.3 258)rotate(90)scale(.9 1)">C225</text></g>
<g id="C221"><rect x="1737.2" y="231.7" width="21.77" height="45.6"/><text transform="translate(1742.1 258)rotate(90)scale(.9 1)">C221</text></g>
<g id="C217"><rect x="1759" y="231.7" width="21.77" height="45.6"/><text transform="translate(1763.9 258)rotate(90)scale(.9 1)">C217</text></g>
<g id="C211"><rect x="1780.7" y="231.7" width="21.77" height="45.6"/><text transform="translate(1785.6 258)rotate(90)scale(.9 1)">C211</text></g>
<g id="C207"><rect x="1802.5" y="231.7" width="21.77" height="45.6"/><text transform="translate(1807.4 258)rotate(90)scale(.9 1)">C207</text></g>
<g id="C203"><rect x="1824.3" y="231.7" width="21.77" height="45.6"/><text transform="translate(1829.2 258)rotate(90)scale(.9 1)">C203</text></g>
<g id="C109"><rect x="1846.1" y="231.7" width="21.77" height="45.6"/><text transform="translate(1851 258)rotate(90)scale(.9 1)">C109</text></g>
<g id="C105"><rect x="1867.8" y="231.7" width="21.77" height="45.6"/><text transform="translate(1872.7 258)rotate(90)scale(.9 1)">C105</text></g>
</g>
</g>
<g id="stairs">
<rect class="st" x="357.7" y="171.7" width="20.3" height="46"/><rect class="st" x="357.7" y="231.7" width="20.3" height="45.6"/>
<rect class="st" x="969" y="182.3" width="17.7" height="35.7"/><rect class="st" x="969" y="232" width="17.7" height="34.7"/>
<rect class="st" x="1500" y="171.7" width="19.3" height="46"/><rect class="st" x="1500" y="231.7" width="19.3" height="45.6"/>
<path class="w" d="M357.7 183.3H378M357.7 195H378M357.7 206.7H378M357.7 242.7H378M357.7 255H378M357.7 266H378M969 190H986.7M969 201.7H986.7M969 212H986.7M969 240.7H986.7M969 251.7H986.7M969 261.7H986.7M1500 183.3H1519.3M1500 195H1519.3M1500 206.7H1519.3M1500 242.7H1519.3M1500 255H1519.3M1500 266H1519.3"/>
</g>
<g id="walls">
<path class="w" d="M388 171.7V277.3M388 171.7H518.4M562 171.7H736.1M910.3 171.7H953.3V277.3H910.3M736.1 277.3H562M518.4 277.3H388"/>
<path class="w" d="M953.3 171.7H984M953.3 182H977.7V171.7M953.3 266.7H977.7V277.3M953.3 277.3H984"/>
<path class="w" d="M1214.6 171.7V277.3M1214.6 171.7H1367V277.3H1214.6"/>
<path class="w" d="M1376.7 171.7H1389.3V277.3H1376.7M1389.3 171.7H1457.3V277.3H1389.3M1519.3 171.7V277.3"/>
<path class="w" d="M1540 171.7V181M1540 277.3V268"/>
<path class="w" d="M300.9 171.7H320.7V178M300.9 193.5H320.7M320.7 187V202M300.9 218.3H320.7M320.7 213V233M300.9 231.7H320.7M300.9 255H320.7M320.7 252V265M300.9 277.3H320.7V272"/>
<path class="w" d="M1457.3 171.7H1476.7V178M1457.3 193.5H1476.7M1476.7 187V202M1457.3 218H1476.7M1476.7 212V265M1457.3 231.7H1476.7M1457.3 255H1476.7M1476.7 252V262M1457.3 277.3H1476.7V272"/>
<path class="w" d="M1023.3 190V172H1056.7L1046 193.3M1043.3 172V192.7M1029 190V194.3H1004V218.3H1017M1023.3 198V207M1023.3 259V277H1056.7L1046 255.7M1043.3 277V256.3M1029 259V254.7H1004V232H1017M1023.3 251V242"/>
<path class="w" d="M1073.3 172L1060 203.3V246L1073.3 277M1077.5 172L1084.5 190M1077.5 277L1084.5 259"/>
<path d="M1066 188C1074 177 1082 181 1083 187C1084 193 1078 199 1074 203C1068 206 1058 207 1061 203Z" fill="#fff" stroke="#2a2a2a" stroke-width="1.2"/>
<path class="w" d="M1064 197C1070 190 1080 190 1082 194M1072 186C1078 184 1083 186 1083 192"/>
<path d="M1066 261C1074 272 1082 268 1083 262C1084 256 1078 250 1074 246C1068 243 1058 242 1061 246Z" fill="#fff" stroke="#2a2a2a" stroke-width="1.2"/>
<path class="w" d="M1064 252C1070 259 1080 259 1082 255M1072 263C1078 265 1083 263 1083 257"/>
</g>
<g id="doors">
<path class="d" d="M105 97Q96.5 97 95 105H105M105 353Q96.5 353 95 345H105"/>
<path class="d" d="M388 160Q380 161 379 169.5H388M388 289Q380 288 379 279.5H388"/>
<path class="d" d="M736.3 160Q729 161 728 169.5H736.3M736.3 289Q729 288 728 279.5H736.3"/>
<path class="d" d="M953.3 160Q961 161 962 169.5H953.3M953.3 289Q961 288 962 279.5H953.3"/>
<path class="d" d="M1214.6 160Q1206 161 1205.7 169.5H1214.6M1214.6 289Q1206 288 1205.7 279.5H1214.6"/>
<path class="d" d="M1519.3 160Q1511 161 1510 169.5H1519.3M1519.3 289Q1511 288 1510 279.5H1519.3"/>
<path class="d" d="M1845.5 161Q1854 162 1854.3 170.5H1846M1845.5 289Q1854 288 1854.3 279.5H1846"/>
<path class="d" d="M1368 172Q1369 180 1376.7 181.5V172M1368 277Q1369 269 1376.7 267.5V277"/>
<path class="d" d="M1530 172Q1531 180 1538.3 181.5V172M1530 277Q1531 269 1538.3 267.5V277"/>
<path class="d" d="M1064.5 172Q1063 179 1057 180M1064.5 172Q1066 179 1073 180M1064.5 277Q1063 270 1057 269M1064.5 277Q1066 270 1073 269"/>
<path class="d" d="M1005 219Q1013 219 1016 225Q1013 231 1005 231M1018 219Q1010 219 1007 225Q1010 231 1018 231"/>
</g>
<g id="labels">
<text class="l" transform="translate(307.5 181.7)rotate(90)">Lift</text><text class="l" transform="translate(306.8 203.5)rotate(90)">Lift</text><text class="l" transform="translate(307.5 240)rotate(90)">Lift</text><text class="l" transform="translate(307.5 262)rotate(90)">Lift</text>
<text class="l" transform="translate(1463.5 181.7)rotate(90)">Lift</text><text class="l" transform="translate(1463.5 204)rotate(90)">Lift</text><text class="l" transform="translate(1463.5 239.5)rotate(90)">Lift</text><text class="l" transform="translate(1463.5 261)rotate(90)">Lift</text>
<text class="l" transform="translate(1030 181.7)rotate(90)">Lift</text><text class="l" transform="translate(1011.8 204)rotate(90)">Lift</text><text class="l" transform="translate(1011.8 241.3)rotate(90)">Lift</text><text class="l" transform="translate(1031 265)rotate(90)">Lift</text>
<text class="p" transform="translate(1047.7 222.5)rotate(90)scale(.95 1)">Panoramic</text><text class="p" transform="translate(1032.7 223)rotate(90)scale(.95 1)">Lifts</text>
<text class="s" transform="translate(1378.5 220.7)rotate(90)scale(.9 1)">Self Service</text><text class="s" transform="translate(1368.5 220.7)rotate(90)scale(.9 1)">Laundromat</text>
<text class="j" transform="translate(329.7 223)rotate(90)" textLength="118" lengthAdjust="spacingAndGlyphs">エレベーター</text>
<text class="j" transform="translate(986.3 224)rotate(90)" textLength="118" lengthAdjust="spacingAndGlyphs">エレベーター</text>
<text class="j" transform="translate(1482 223.5)rotate(90)" textLength="118" lengthAdjust="spacingAndGlyphs">エレベーター</text>
<text class="j" transform="translate(1338 224)rotate(90)" textLength="96" lengthAdjust="spacingAndGlyphs">ランドリー</text>
</g>
<g id="markers">
<circle class="rd" cx="267.5" cy="213.3" r="2.4"/><circle class="rd" cx="289.3" cy="213.3" r="2.4"/><circle class="rd" cx="267.5" cy="236.7" r="2.4"/><circle class="rd" cx="289.3" cy="236.7" r="2.4"/>
<circle class="rd" cx="747.5" cy="152.3" r="2.4"/><circle class="rd" cx="768.9" cy="152.3" r="2.4"/><circle class="rd" cx="790.4" cy="151.6" r="2.4"/><circle class="rd" cx="812.9" cy="151.3" r="2.4"/><circle class="rd" cx="833.6" cy="151.3" r="2.4"/><circle class="rd" cx="940.7" cy="152.3" r="2.4"/>
<circle class="rd" cx="746.8" cy="299" r="2.4"/><circle class="rd" cx="768.9" cy="299" r="2.4"/><circle class="rd" cx="790.4" cy="298.5" r="2.4"/><circle class="rd" cx="813.2" cy="298.5" r="2.4"/><circle class="rd" cx="833.2" cy="298" r="2.4"/><circle class="rd" cx="940.7" cy="297.7" r="2.4"/>
<circle class="rd" cx="1094.6" cy="236" r="2.4"/>
<circle class="rd" cx="1552.5" cy="213.3" r="2.4"/><circle class="rd" cx="1573.2" cy="213.3" r="2.4"/><circle class="rd" cx="1594.6" cy="213.3" r="2.4"/><circle class="rd" cx="1552.5" cy="235.3" r="2.4"/><circle class="rd" cx="1573.2" cy="235.3" r="2.4"/><circle class="rd" cx="1594.6" cy="235.3" r="2.4"/>
<circle class="rd" cx="1493.2" cy="137.3" r="2.4"/><circle class="rd" cx="1493.2" cy="326" r="2.4"/>
<circle class="wd" cx="1461" cy="131" r="3"/><circle class="wd" cx="1493.2" cy="126.7" r="3"/><circle class="wd" cx="1460.4" cy="320.7" r="3"/><circle class="wd" cx="1493.2" cy="316" r="3"/><circle class="wd" cx="1414" cy="195" r="3"/>
<path class="k" d="M892.5 155l2.6-4.6 2.6 4.6zM899.5 150h5v5h-5zM914.3 155l2.6-4.6 2.6 4.6zM921.5 150h5v5h-5z"/>
<path class="k" d="M892.5 295l2.6 4.6 2.6-4.6zM899.5 295h5v5h-5zM913.5 295l2.6 4.6 2.6-4.6zM921.5 295h5v5h-5z"/>
</g>
<g id="hull" fill="none" stroke="#111">
<path stroke-width="1.2" d="M104.8 105H1911.4M104.8 344.3H1911.4" stroke="#2a2a2a"/>
<path stroke-width="1.2" d="M1911.4 159V290" stroke="#2a2a2a"/>
<path stroke-width="3.2" d="M1926 83.5C2004 83.5 2060.3 145 2060.3 224.5C2060.3 304 2004 365.5 1926 365.5H33C28 365 25 358 22 345C17 320 14 280 9.5 224.5C14 169 17 129 22 104C25 91 28 84 33 83.5Z"/>
</g>
</svg>
